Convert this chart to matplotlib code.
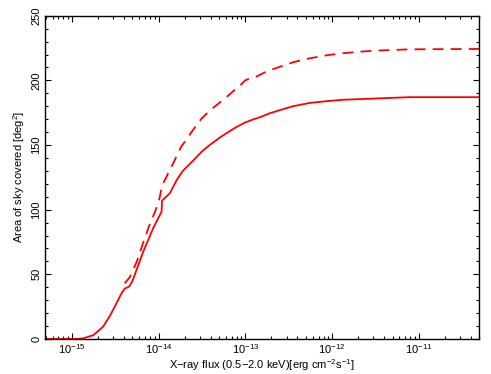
"""Sky coverage vs X-ray flux limit (0.5-2.0 keV)."""

import matplotlib

matplotlib.use("Agg")
import matplotlib.pyplot as plt
import numpy as np
from matplotlib.ticker import FixedLocator, MultipleLocator, NullFormatter

plt.rcParams["font.family"] = ["Liberation Sans", "DejaVu Sans"]
plt.rcParams["mathtext.fontset"] = "custom"
plt.rcParams["mathtext.rm"] = "Liberation Sans"
plt.rcParams["mathtext.it"] = "Liberation Sans:italic"
plt.rcParams["mathtext.default"] = "regular"

# log10 flux / area (deg^2)
solid_logf = [-15.31, -14.95, -14.87, -14.75, -14.64, -14.56, -14.49, -14.43, -14.39,
              -14.34, -14.30, -14.18, -14.06, -13.965, -13.96, -13.87, -13.79, -13.72,
              -13.66, -13.60, -13.50, -13.41, -13.30, -13.22, -13.10, -13.00, -12.90,
              -12.83, -12.72, -12.60, -12.45, -12.26, -12.05, -11.87, -11.49, -11.11,
              -10.30]
solid_area = [0, 0, 0.5, 3, 9.5, 18, 27, 35, 39,
              40.5, 45, 67, 86, 98.5, 107, 112.7, 123, 130,
              134, 138, 145, 150, 155.5, 159, 164, 167.5, 170,
              171.5, 174.5, 177, 180, 182.5, 184, 185, 186, 187,
              187]

dashed_logf = [-14.39, -14.33, -14.25, -14.18, -14.10, -14.04, -13.99, -13.97, -13.95,
               -13.89, -13.83, -13.74, -13.68, -13.62, -13.51, -13.42, -13.31, -13.20,
               -13.10, -13.06, -13.00, -12.95, -12.87, -12.75, -12.60, -12.45, -12.26,
               -12.05, -11.87, -11.65, -11.49, -11.11, -10.30]
dashed_area = [43, 48, 60, 74, 89, 98.5, 108.5, 115, 120,
               128, 136, 148.7, 154, 160, 170, 176, 182, 188,
               194, 196, 200, 201.5, 203, 207, 210.5, 214, 217,
               219.5, 221, 222.3, 223, 224, 224.3]

x_tick_exp = [-15, -14, -13, -12, -11]

fig = plt.figure(figsize=(4.91, 3.74), dpi=100)
ax = fig.add_axes([0.0916, 0.0936, 0.8846, 0.8644])

ax.plot(10 ** np.array(solid_logf), solid_area, color="red", lw=1.3)
ax.plot(10 ** np.array(dashed_logf), dashed_area, color="red", lw=1.3,
        dashes=(6, 4))

ax.set_xscale("log")
xmin, xmax = 4.9e-16, 5e-11
ax.set_xlim(xmin, xmax)
ax.set_ylim(0, 250)

ax.set_xticks([10.0 ** e for e in x_tick_exp])
ax.set_xticklabels([f"$10^{{\u2212{-e}}}$" for e in x_tick_exp])
minors = [m * 10.0 ** e for e in range(-16, -10) for m in range(2, 10)]
ax.xaxis.set_minor_locator(FixedLocator([v for v in minors if xmin <= v <= xmax]))
ax.xaxis.set_minor_formatter(NullFormatter())
ax.yaxis.set_major_locator(MultipleLocator(50))
ax.yaxis.set_minor_locator(MultipleLocator(10))

ax.tick_params(which="both", direction="in", top=True, right=True, labelsize=8,
               width=0.8, pad=2.5)
ax.tick_params(which="major", length=4.5)
ax.tick_params(which="minor", length=2.5)
for lab in ax.get_yticklabels():
    lab.set_rotation(90)
    lab.set_va("center")
for s in ax.spines.values():
    s.set_linewidth(1.0)

ax.set_xlabel("X\u2212ray flux (0.5\u22122.0 keV)[erg cm$^{\u22122}$s$^{\u22121}$]",
              fontsize=8, labelpad=0.5)
ax.set_ylabel("Area of sky covered [deg$^2$]", fontsize=8, labelpad=3)

fig.savefig("out.png", dpi=100)
